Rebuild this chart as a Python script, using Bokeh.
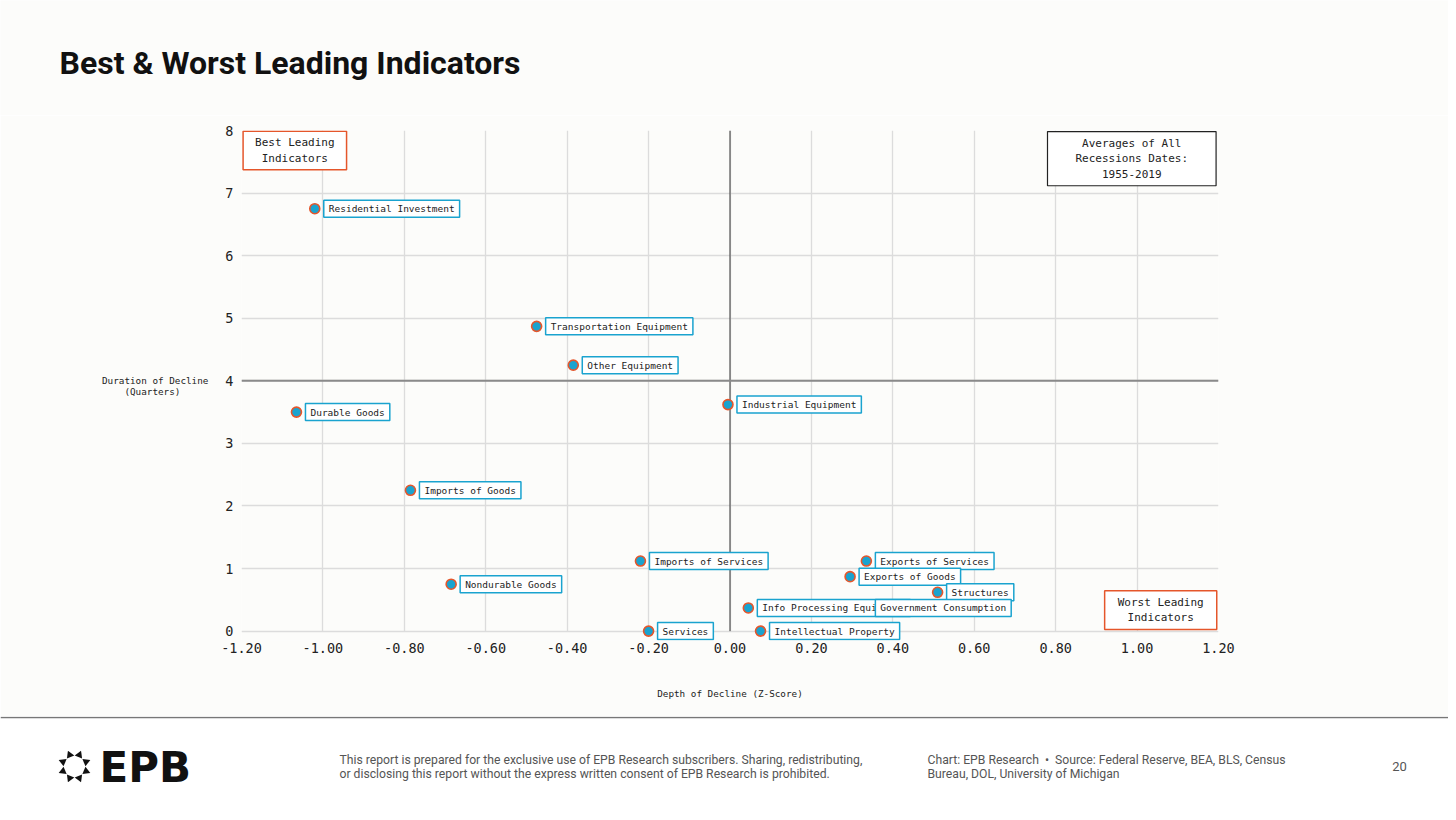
import math
from bokeh.plotting import figure
from bokeh.models import (ColumnDataSource, Label, Span, Range1d,
                          FixedTicker, NumeralTickFormatter)
from bokeh.embed import file_html
from bokeh.resources import INLINE
from bokeh.core.properties import value

# ---------------- data ----------------
names = ["Residential Investment", "Transportation Equipment", "Other Equipment",
         "Durable Goods", "Industrial Equipment", "Imports of Goods",
         "Imports of Services", "Nondurable Goods", "Services",
         "Exports of Services", "Exports of Goods", "Structures",
         "Info Processing Equipment", "Government Consumption", "Intellectual Property"]
depth = [-1.02, -0.475, -0.385, -1.065, -0.005, -0.785,
         -0.22, -0.685, -0.20,
         0.335, 0.295, 0.51,
         0.045, 0.335, 0.075]
duration = [6.75, 4.87, 4.25, 3.50, 3.62, 2.25,
            1.12, 0.75, 0.0,
            1.12, 0.87, 0.62,
            0.37, 0.37, 0.0]
x_ticks = [-1.2, -1.0, -0.8, -0.6, -0.4, -0.2, 0.0, 0.2, 0.4, 0.6, 0.8, 1.0, 1.2]
y_ticks = [0, 1, 2, 3, 4, 5, 6, 7, 8]

BG = "#fcfcfa"
MONO = "DejaVu Sans Mono"
BLUE = "#1aa3cf"
ORANGE = "#e5562b"
GRID = "#dcdcdc"
W = 1448

def blank(h, y0, y1):
    f = figure(width=W, height=h, x_range=Range1d(0, W), y_range=Range1d(y0, y1),
               output_backend="svg", toolbar_location=None, min_border=0,
               background_fill_color=BG, border_fill_color=BG)
    f.axis.visible = False
    f.grid.visible = False
    f.outline_line_color = None
    return f

# ---------------- header ----------------
h = blank(115, 115, 0)
h.text([59], [62], text=["Best & Worst Leading Indicators"], text_font=value("Roboto"),
       text_font_size="32px", text_font_style="bold", text_baseline="middle",
       text_color="#111111")

# ---------------- main chart ----------------
src = ColumnDataSource(dict(x=depth, y=duration, name=names))

# a little room is left under the 0 line so the labels sitting on it are not cut
p = figure(width=W, height=601, x_range=Range1d(-1.2, 1.2), y_range=Range1d(-0.15, 8),
           output_backend="svg", toolbar_location=None,
           min_border_left=241, min_border_right=230, min_border_top=15, min_border_bottom=76,
           background_fill_color=BG, border_fill_color=BG)
p.outline_line_color = None
p.grid.grid_line_color = GRID
p.grid.grid_line_width = 1.3
p.xaxis.ticker = FixedTicker(ticks=x_ticks)
p.yaxis.ticker = FixedTicker(ticks=y_ticks)
p.xaxis.formatter = NumeralTickFormatter(format="0.00")

# vertical grid lines limited to the 0..8 band
xg = p.xgrid[0]
try:
    xg.cross_bounds = (y_ticks[0], y_ticks[-1])
except Exception:
    xg.visible = False
    p.segment(x0=x_ticks, y0=[y_ticks[0]] * len(x_ticks), x1=x_ticks,
              y1=[y_ticks[-1]] * len(x_ticks), line_color=GRID, line_width=1.3)

for ax in (p.xaxis, p.yaxis):
    ax.axis_line_color = None
    ax.major_tick_line_color = None
    ax.minor_tick_line_color = None
    ax.major_label_text_font = MONO
    ax.major_label_text_font_size = "13.5px"
    ax.major_label_text_color = "#222222"
    ax.axis_label_text_font = MONO
    ax.axis_label_text_font_size = "9.3px"
    ax.axis_label_text_font_style = "normal"
    ax.axis_label_text_color = "#222222"
p.xaxis.major_label_standoff = -4
p.yaxis.major_label_standoff = 2
p.xaxis.axis_label = "Depth of Decline (Z-Score)"
p.xaxis.axis_label_standoff = 32
p.yaxis.axis_label = "Duration of Decline\n(Quarters)\u00a0\u00a0\u00a0\u00a0\u00a0"
p.yaxis.axis_label_orientation = "horizontal"
p.yaxis.axis_label_standoff = 14
p.yaxis.axis_label_text_line_height = 1.0

p.add_layout(Span(location=4, dimension="width", line_color="#8a8a8a", line_width=2))
p.segment(x0=[0], y0=[y_ticks[0]], x1=[0], y1=[y_ticks[-1]], line_color="#333333", line_width=1)

p.scatter("x", "y", source=src, size=10, fill_color=BLUE, line_color=ORANGE, line_width=1.6)

p.text("x", "y", text="name", source=src, x_offset=9, y_offset=0,
       text_baseline="middle", text_font=value(MONO), text_font_size="9.5px",
       text_color="#222222", background_fill_color="#ffffff",
       border_line_color=BLUE, border_line_width=1.5, padding=(5, 3))

def box(txt, x, y, col, lw, pad):
    p.add_layout(Label(x=x, y=y, text=txt, text_align="center", text_baseline="middle",
                       text_font=MONO, text_font_size="11px", text_color="#222222",
                       background_fill_color="#ffffff", border_line_color=col,
                       border_line_width=lw, padding=pad))

box("Best Leading\nIndicators", -1.069, 7.68, ORANGE, 1.5, (12, 5))
box("Averages of All\nRecessions Dates:\n1955-2019", 0.987, 7.55, "#222222", 1.2, (28, 5))
box("Worst Leading\nIndicators", 1.058, 0.335, ORANGE, 1.5, (13, 5))

# ---------------- footer ----------------
f = blank(100, 816, 716)
f.background_fill_color = "#ffffff"
f.border_fill_color = "#ffffff"
f.add_layout(Span(location=717, dimension="width", line_color="#777777", line_width=1.5))

cx, cy, r = 74, 766, 12.5
ang = [i * math.pi / 4 + math.pi / 8 for i in range(8)]
f.scatter([cx + r * math.cos(a) for a in ang], [cy + r * math.sin(a) for a in ang],
          marker="triangle", size=8, angle=[-a - math.pi / 2 for a in ang],
          fill_color="#111111", line_color=None)
f.text([99], [767], text=["EPB"], text_font=value("DejaVu Sans"), text_font_size="42px",
       text_font_style="bold", text_baseline="middle", text_color="#111111")
foot_font = value("Roboto")
f.text([339, 339], [759, 773],
       text=["This report is prepared for the exclusive use of EPB Research subscribers. Sharing, redistributing,",
             "or disclosing this report without the express written consent of EPB Research is prohibited."],
       text_font=foot_font, text_font_size="12.2px", text_baseline="middle", text_color="#555555")
f.text([927, 927], [759, 773],
       text=["Chart: EPB Research \u00a0\u2022\u00a0 Source: Federal Reserve, BEA, BLS, Census",
             "Bureau, DOL, University of Michigan"],
       text_font=foot_font, text_font_size="12.2px", text_baseline="middle", text_color="#555555")
f.text([1399], [766], text=["20"], text_font=foot_font, text_font_size="13px",
       text_align="center", text_baseline="middle", text_color="#555555")

open("out.html", "w").write(file_html([h, p, f], INLINE))
